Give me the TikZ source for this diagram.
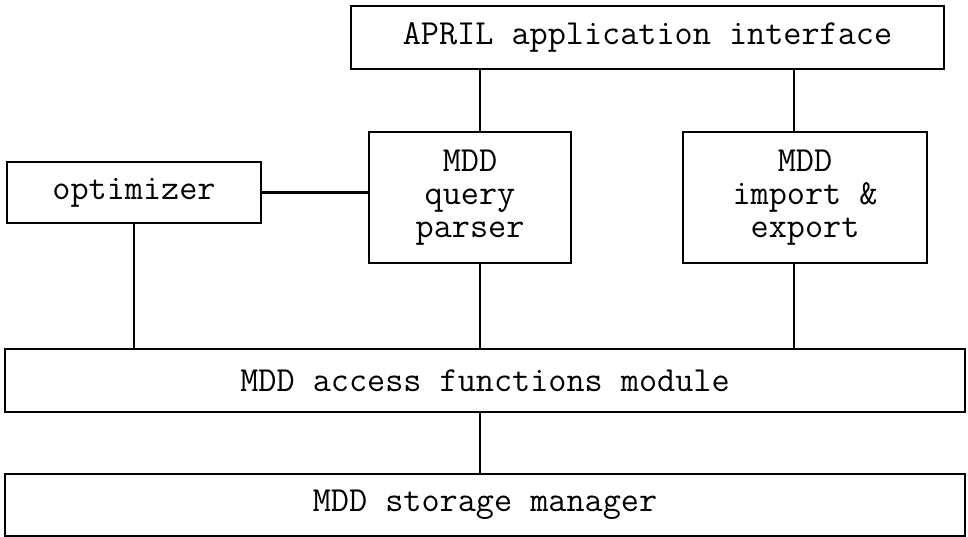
\documentclass[tikz,border=0pt]{standalone}
\usepackage{fontspec}
\usetikzlibrary{positioning}

\begin{document}
\begin{tikzpicture}[x=1pt, y=-1pt, line width=2.8pt,
    every node/.style={font=\ttfamily\fontsize{35.2}{33}\selectfont},
    box/.style={draw, inner sep=0pt, align=center}]
  \useasboundingbox (0,0) rectangle (968,537);
  \node[box, minimum width=593pt, minimum height=63pt]  (api) at (647.5,37.5) {APRIL application interface};
  \node[box, minimum width=254pt, minimum height=61pt]  (opt) at (134,192.5)  {optimizer};
  \node[box, minimum width=202pt, minimum height=131pt] (qp)  at (470,197.5)  {MDD\\query\\parser};
  \node[box, minimum width=244pt, minimum height=131pt] (ie)  at (805,197.5)  {MDD\\import \&\\export};
  \node[box, minimum width=960pt, minimum height=63pt]  (acc) at (485,380.5)  {MDD access functions module};
  \node[box, minimum width=960pt, minimum height=62pt]  (sm)  at (485,505)    {MDD storage manager};
  % vertical lines are not on the box centres
  \coordinate (midx) at (480,0);
  \coordinate (iex) at (794,0);
  \draw (api.south -| midx) -- (qp.north -| midx);
  \draw (api.south -| iex) -- (ie.north -| iex);
  \draw (opt.east) -- (qp.west |- opt.east);
  \draw (opt.south) -- (acc.north -| opt.south);
  \draw (qp.south -| midx) -- (acc.north -| midx);
  \draw (ie.south -| iex) -- (acc.north -| iex);
  \draw (acc.south -| midx) -- (sm.north -| midx);
\end{tikzpicture}
\end{document}
